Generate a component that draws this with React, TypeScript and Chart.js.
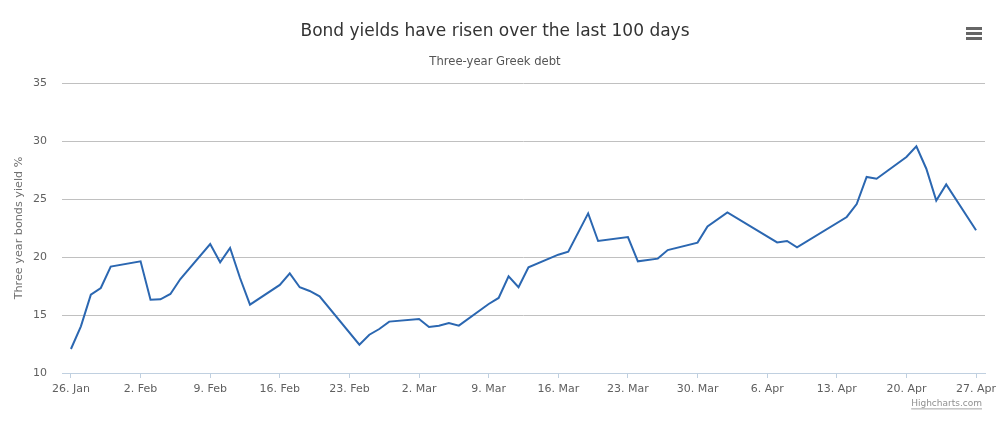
import React, { useEffect, useRef } from "react";
import { Chart, registerables } from "chart.js";

Chart.register(...registerables);

// ---- Data ----
const dates: string[] = [
  "2015-01-26", "2015-01-27", "2015-01-28", "2015-01-29", "2015-01-30",
  "2015-02-02", "2015-02-03", "2015-02-04", "2015-02-05", "2015-02-06",
  "2015-02-09", "2015-02-10", "2015-02-11", "2015-02-12", "2015-02-13",
  "2015-02-16", "2015-02-17", "2015-02-18", "2015-02-19", "2015-02-20",
  "2015-02-24", "2015-02-25", "2015-02-26", "2015-02-27",
  "2015-03-02", "2015-03-03", "2015-03-04", "2015-03-05", "2015-03-06",
  "2015-03-09", "2015-03-10", "2015-03-11", "2015-03-12", "2015-03-13",
  "2015-03-16", "2015-03-17", "2015-03-19", "2015-03-20",
  "2015-03-23", "2015-03-24", "2015-03-26", "2015-03-27",
  "2015-03-30", "2015-03-31", "2015-04-02",
  "2015-04-07", "2015-04-08", "2015-04-09",
  "2015-04-14", "2015-04-15", "2015-04-16", "2015-04-17",
  "2015-04-20", "2015-04-21", "2015-04-22", "2015-04-23", "2015-04-24",
  "2015-04-27",
];

const yields: number[] = [
  12.07, 14.02, 16.75, 17.33, 19.17,
  19.63, 16.32, 16.35, 16.81, 18.1,
  21.12, 19.54, 20.78, 18.19, 15.89,
  17.59, 18.59, 17.39, 17.07, 16.61,
  12.44, 13.3, 13.79, 14.43,
  14.66, 13.97, 14.08, 14.31, 14.08,
  15.95, 16.47, 18.33, 17.39, 19.11,
  20.2, 20.46, 23.76, 21.38,
  21.72, 19.63, 19.86, 20.6,
  21.24, 22.64, 23.85,
  21.26, 21.38, 20.83,
  23.45, 24.57, 26.9, 26.75,
  28.62, 29.54, 27.61, 24.86, 26.26,
  22.3,
];

const tickDates: string[] = [
  "2015-01-26", "2015-02-02", "2015-02-09", "2015-02-16", "2015-02-23",
  "2015-03-02", "2015-03-09", "2015-03-16", "2015-03-23", "2015-03-30",
  "2015-04-06", "2015-04-13", "2015-04-20", "2015-04-27",
];
const tickLabels: string[] = [
  "26. Jan", "2. Feb", "9. Feb", "16. Feb", "23. Feb",
  "2. Mar", "9. Mar", "16. Mar", "23. Mar", "30. Mar",
  "6. Apr", "13. Apr", "20. Apr", "27. Apr",
];

const yTicks: number[] = [10, 15, 20, 25, 30, 35];

const titleText = "Bond yields have risen over the last 100 days";
const subtitleText = "Three-year Greek debt";
const yAxisTitle = "Three year bonds yield %";
const creditsText = "Highcharts.com";

const FONT = '"DejaVu Sans", "Lucida Grande", sans-serif';
const DAY = 86400000;
const dayOf = (s: string) => (Date.parse(s) - Date.parse(dates[0])) / DAY;

export default function App() {
  const canvasRef = useRef<HTMLCanvasElement | null>(null);

  useEffect(() => {
    document.body.style.margin = "0";
    const canvas = canvasRef.current;
    if (!canvas) return;

    const tickDays = tickDates.map(dayOf);
    const points = dates.map((d, i) => ({ x: dayOf(d), y: yields[i] }));

    const decor = {
      id: "decor",
      afterDraw(chart: any) {
        const ctx = chart.ctx as CanvasRenderingContext2D;
        ctx.save();
        ctx.textAlign = "center";
        ctx.textBaseline = "middle";
        // title
        ctx.fillStyle = "#333333";
        ctx.font = `17px ${FONT}`;
        ctx.fillText(titleText, 495, 32);
        // subtitle
        ctx.fillStyle = "#555555";
        ctx.font = `11.6px ${FONT}`;
        ctx.fillText(subtitleText, 495, 62);
        // y-axis title
        ctx.save();
        ctx.translate(19.5, 228);
        ctx.rotate(-Math.PI / 2);
        ctx.fillStyle = "#707070";
        ctx.font = `11.2px ${FONT}`;
        ctx.fillText(yAxisTitle, 0, 0);
        ctx.restore();
        // hamburger menu
        ctx.fillStyle = "#666666";
        ctx.fillRect(966, 27, 16, 3);
        ctx.fillRect(966, 32, 16, 3);
        ctx.fillRect(966, 37, 16, 3);
        // credits
        ctx.font = `9px ${FONT}`;
        ctx.fillStyle = "#909090";
        ctx.textAlign = "right";
        ctx.fillText(creditsText, 982, 404);
        const w = ctx.measureText(creditsText).width;
        ctx.fillRect(982 - w, 408.5, w, 0.8);
        ctx.restore();
      },
    };

    const chart = new Chart(canvas, {
      type: "line",
      data: {
        datasets: [
          {
            label: "Yield",
            data: points,
            borderColor: "#2B67B1",
            backgroundColor: "#2B67B1",
            borderWidth: 2,
            pointRadius: 0,
            pointHoverRadius: 0,
            tension: 0,
            fill: false,
          },
        ],
      },
      options: {
        responsive: false,
        animation: false,
        devicePixelRatio: 1,
        layout: { padding: { top: 83, right: 17, bottom: 0, left: 0 } },
        plugins: {
          legend: { display: false },
          title: { display: false },
          tooltip: { enabled: false },
        },
        font: { family: FONT },
        scales: {
          x: {
            type: "linear",
            min: -0.9,
            max: 91.9,
            offset: false,
            afterBuildTicks: (scale: any) => {
              scale.ticks = tickDays.map((v) => ({ value: v }));
            },
            afterFit: (scale: any) => {
              scale.height = 50;
            },
            ticks: {
              autoSkip: false,
              maxRotation: 0,
              minRotation: 0,
              padding: 5,
              color: "#606060",
              font: { family: FONT, size: 11 },
              callback: (value: any) => {
                const idx = tickDays.indexOf(Number(value));
                return idx >= 0 ? tickLabels[idx] : "";
              },
            },
            grid: {
              drawOnChartArea: false,
              drawTicks: true,
              tickLength: 5,
              color: "#C0D0E0",
            },
            border: { display: true, color: "#C0D0E0", width: 1 },
          },
          y: {
            type: "linear",
            min: 10,
            max: 35,
            afterBuildTicks: (scale: any) => {
              scale.ticks = yTicks.map((v) => ({ value: v }));
            },
            afterFit: (scale: any) => {
              scale.width = 62;
            },
            ticks: {
              padding: 15,
              color: "#606060",
              font: { family: FONT, size: 11 },
            },
            grid: {
              drawTicks: false,
              color: (c: any) =>
                c.tick && c.tick.value === 10 ? "rgba(0,0,0,0)" : "#C0C0C0",
              lineWidth: 1,
            },
            border: { display: false },
          },
        },
      },
      plugins: [decor],
    } as any);

    return () => chart.destroy();
  }, []);

  return (
    <div style={{ width: 1002, height: 423, position: "relative", background: "#ffffff" }}>
      <canvas ref={canvasRef} width={1002} height={423} />
    </div>
  );
}
